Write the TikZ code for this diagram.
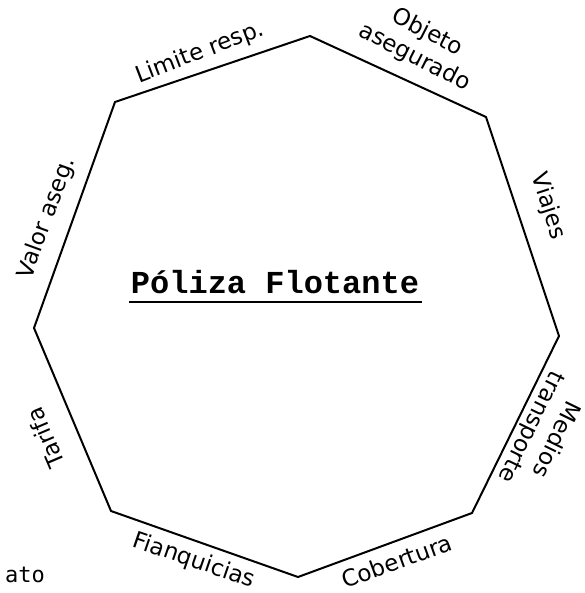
\documentclass[tikz,border=0pt]{standalone}
\usepackage{fontspec}
\newfontfamily\hand{DejaVu Sans}
\newfontfamily\typew{Liberation Mono}
\newfontfamily\monosans{DejaVu Sans Mono}
\begin{document}
\begin{tikzpicture}[x=1pt,y=-1pt,
  edge/.style={line width=2pt, line join=round, line cap=round},
  lbl/.style={font=\hand\fontsize{23}{28}\selectfont, inner sep=0pt, align=center}]
\useasboundingbox[fill=white] (0,0) rectangle (584,593);
\coordinate (T) at (310,36);
\coordinate (UR) at (486,117);
\coordinate (R) at (559,336);
\coordinate (LR) at (472,513);
\coordinate (B) at (298,577);
\coordinate (LL) at (111,511);
\coordinate (L) at (34,328);
\coordinate (UL) at (115,102);
\draw[edge] (T) -- (UR) -- (R) -- (LR) -- (B) -- (LL) -- (L) -- (UL) -- cycle;
\node[font=\typew\bfseries\fontsize{32}{36}\selectfont, anchor=base, inner sep=0pt] (title) at (275,293) {Póliza Flotante};
\coordinate (u1) at (129,302);
\coordinate (u2) at (422,302);
\draw[line width=1.5pt] (u1) -- (u2);
\node[lbl, rotate=21] (lim) at (200,53) {Limite resp.};
\node[lbl, rotate=-27] (obj) at (421,45) {Objeto\\asegurado};
\node[lbl, rotate=-72] (via) at (548,206) {Viajes};
\node[lbl, rotate=-116] (med) at (543,433) {Medios\\transporte};
\node[lbl, rotate=20] (cob) at (397,561) {Cobertura};
\node[lbl, rotate=-19] (fra) at (194,561) {Fianquicias};
\node[lbl, rotate=113] (tar) at (45,438) {Tarifa};
\node[lbl, rotate=70] (val) at (47,218) {Valor aseg.};
\node[font=\monosans\fontsize{22}{26}\selectfont, anchor=east, inner sep=0pt] (ato) at (45,575) {ato};
\end{tikzpicture}
\end{document}
